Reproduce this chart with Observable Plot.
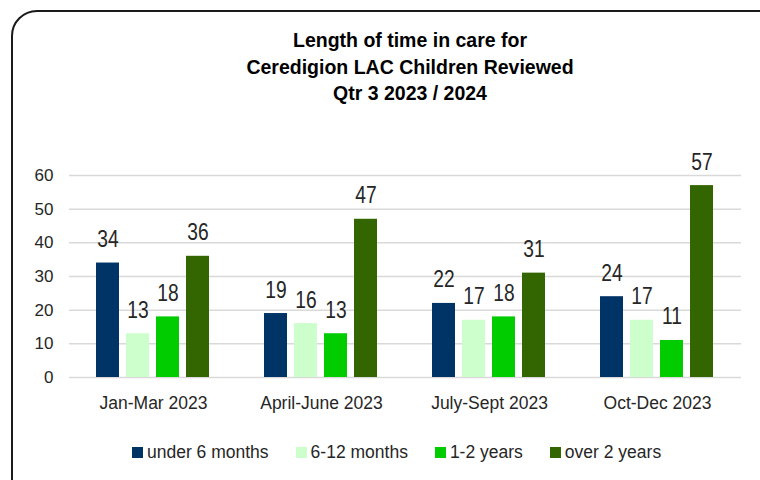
<!DOCTYPE html>
<html>
<head>
<meta charset="utf-8">
<script src="https://cdn.jsdelivr.net/npm/d3@7"></script>
<script src="https://cdn.jsdelivr.net/npm/@observablehq/plot@0.6"></script>
<style>
  html, body { margin: 0; padding: 0; background: #fff; }
  #wrap { position: relative; width: 760px; height: 480px; overflow: hidden; background: #fff; font-family: "Liberation Sans", Arial, sans-serif; }
  #frame { position: absolute; left: 11px; top: 10px; width: 780px; height: 500px; box-sizing: border-box; border: 2.5px solid #1a1a1a; border-radius: 26px; }
  #title { position: absolute; left: 0; top: 27px; width: 820px; text-align: center; font-weight: bold; font-size: 19.5px; line-height: 26.5px; color: #000; }
  #chart { position: absolute; left: 0; top: 130px; }
  #legend { position: absolute; left: 132px; top: 442px; height: 20px; display: flex; align-items: center; gap: 27px; font-size: 17.5px; color: #262626; }
  .item { display: flex; align-items: center; gap: 4px; white-space: nowrap; }
  .sw { width: 11px; height: 11px; display: inline-block; }
</style>
</head>
<body>
<div id="wrap">
  <div id="frame"></div>
  <div id="title"></div>
  <div id="chart"></div>
  <div id="legend"></div>
</div>
<script>
const titleLines = ["Length of time in care for", "Ceredigion LAC Children Reviewed", "Qtr 3 2023 / 2024"];
const quarters = ["Jan-Mar 2023", "April-June 2023", "July-Sept 2023", "Oct-Dec 2023"];
const series = ["under 6 months", "6-12 months", "1-2 years", "over 2 years"];
const under6Months = [34, 19, 22, 24];
const sixTo12Months = [13, 16, 17, 17];
const oneTo2Years = [18, 13, 18, 11];
const over2Years = [36, 47, 31, 57];
const yTicks = [0, 10, 20, 30, 40, 50, 60];
const colors = ["#003366", "#ccffcc", "#00cc00", "#336600"];

const seriesValues = [under6Months, sixTo12Months, oneTo2Years, over2Years];
const rows = [];
quarters.forEach((q, qi) => {
  series.forEach((s, si) => {
    rows.push({quarter: q, series: s, value: seriesValues[si][qi]});
  });
});

document.getElementById("title").innerHTML = titleLines.map(t => `<div>${t}</div>`).join("");

const chart = Plot.plot({
  width: 760,
  height: 290,
  marginLeft: 68,
  marginRight: 19,
  marginTop: 45,
  marginBottom: 43,
  style: {fontFamily: "'Liberation Sans', Arial, sans-serif", color: "#262626", background: "transparent"},
  fx: {domain: quarters, padding: 0},
  x: {domain: series, paddingInner: 0.22, paddingOuter: 0.8237, axis: null},
  y: {domain: [0, 60]},
  color: {domain: series, range: colors},
  marks: [
    Plot.ruleY(yTicks, {stroke: "#d9d9d9", strokeWidth: 1.5}),
    Plot.barY(rows, {fx: "quarter", x: "series", y: "value", fill: "series"}),
    Plot.text(rows, {fx: "quarter", x: "series", y: "value", text: "value", dy: -16, lineAnchor: "bottom",
      fontSize: 24, className: "narrow", fill: "#262626"}),
    Plot.axisY(yTicks, {tickSize: 0, tickPadding: 16, fontSize: 17, label: null}),
    Plot.axisFx({tickSize: 0, tickPadding: 19, fontSize: 17.5, label: null, anchor: "bottom"})
  ]
});
document.getElementById("chart").appendChild(chart);

// condense the value labels horizontally (the reference uses a narrow face)
d3.select(chart).selectAll(".narrow text").each(function() {
  const el = d3.select(this);
  const tr = el.attr("transform");
  if (tr && /translate/.test(tr)) {
    el.attr("transform", tr + " scale(0.8,1)");
  } else {
    const x = +(el.attr("x") || 0);
    el.attr("transform", `translate(${x},0) scale(0.8,1) translate(${-x},0)`);
  }
});

const legend = document.getElementById("legend");
series.forEach((s, i) => {
  const item = document.createElement("div");
  item.className = "item";
  item.innerHTML = `<span class="sw" style="background:${colors[i]}"></span><span>${s}</span>`;
  legend.appendChild(item);
});
</script>
</body>
</html>
